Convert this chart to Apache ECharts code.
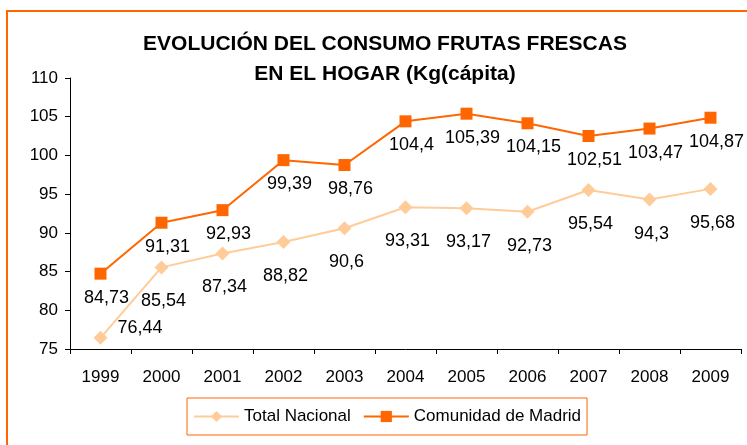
<!DOCTYPE html>
<html>
<head>
<meta charset="utf-8">
<script src="https://cdn.jsdelivr.net/npm/echarts@6/dist/echarts.min.js"></script>
<style>
html, body { margin: 0; padding: 0; background: #fff; }
#main { width: 747px; height: 445px; }
</style>
</head>
<body>
<div id="main"></div>
<script>
// datos
var years = ['1999', '2000', '2001', '2002', '2003', '2004', '2005', '2006', '2007', '2008', '2009'];
var totalNacional = [76.44, 85.54, 87.34, 88.82, 90.6, 93.31, 93.17, 92.73, 95.54, 94.3, 95.68];
var madrid = [84.73, 91.31, 92.93, 99.39, 98.76, 104.4, 105.39, 104.15, 102.51, 103.47, 104.87];

var coma = function (p) {
    return String(p.value).replace('.', ',');
};

// la etiqueta de 1999 (76,44) va a la derecha del punto
var totalData = totalNacional.map(function (v, i) {
    if (i === 0) {
        return { value: v, label: { position: 'right', distance: 10, offset: [0, -10] } };
    }
    return v;
});

var myChart = echarts.init(document.getElementById('main'));
var option = {
    backgroundColor: '#fff',
    animation: false,
    graphic: [{
        type: 'rect',
        shape: { x: 7, y: 11, width: 760, height: 460 },
        style: { fill: 'none', stroke: '#FF6600', lineWidth: 2 }
    }],
    title: {
        text: 'EVOLUCIÓN DEL CONSUMO FRUTAS FRESCAS\nEN EL HOGAR (Kg(cápita)',
        left: 380,
        textAlign: 'center',
        top: 24,
        textStyle: {
            fontFamily: 'Liberation Sans, Arial',
            fontWeight: 'bold',
            fontSize: 21,
            lineHeight: 30,
            color: '#000'
        }
    },
    legend: {
        left: 187,
        top: 398,
        padding: [10, 6, 10, 6],
        borderColor: '#FF6600',
        borderWidth: 1,
        itemWidth: 45,
        itemHeight: 14,
        itemGap: 12,
        textStyle: {
            fontFamily: 'Liberation Sans, Arial',
            fontSize: 17,
            color: '#000'
        },
        data: ['Total Nacional', 'Comunidad de Madrid']
    },
    grid: {
        left: 70,
        right: 6,
        top: 78,
        bottom: 96
    },
    xAxis: {
        type: 'category',
        data: years,
        boundaryGap: true,
        axisLine: { lineStyle: { color: '#000' } },
        axisTick: { show: true, length: 5, lineStyle: { color: '#000' } },
        axisLabel: {
            margin: 20,
            fontFamily: 'Liberation Sans, Arial',
            fontSize: 17,
            color: '#000'
        }
    },
    yAxis: {
        type: 'value',
        min: 75,
        max: 110,
        interval: 5,
        splitLine: { show: false },
        axisLine: { show: true, lineStyle: { color: '#000' } },
        axisTick: { show: true, length: 5, lineStyle: { color: '#000' } },
        axisLabel: {
            margin: 12,
            fontFamily: 'Liberation Sans, Arial',
            fontSize: 17,
            color: '#000'
        }
    },
    series: [{
        name: 'Total Nacional',
        type: 'line',
        data: totalData,
        symbol: 'diamond',
        symbolSize: 14,
        lineStyle: { color: '#FFCC99', width: 2 },
        itemStyle: { color: '#FFCC99' },
        label: {
            show: true,
            position: 'bottom',
            distance: 18,
            offset: [2, 0],
            formatter: coma,
            fontFamily: 'Liberation Sans, Arial',
            fontSize: 18,
            color: '#000'
        }
    }, {
        name: 'Comunidad de Madrid',
        type: 'line',
        data: madrid,
        symbol: 'rect',
        symbolSize: 12,
        lineStyle: { color: '#FF6600', width: 2 },
        itemStyle: { color: '#FF6600' },
        label: {
            show: true,
            position: 'bottom',
            distance: 9,
            offset: [6, 0],
            formatter: coma,
            fontFamily: 'Liberation Sans, Arial',
            fontSize: 18,
            color: '#000'
        }
    }]
};
myChart.setOption(option);
</script>
</body>
</html>
